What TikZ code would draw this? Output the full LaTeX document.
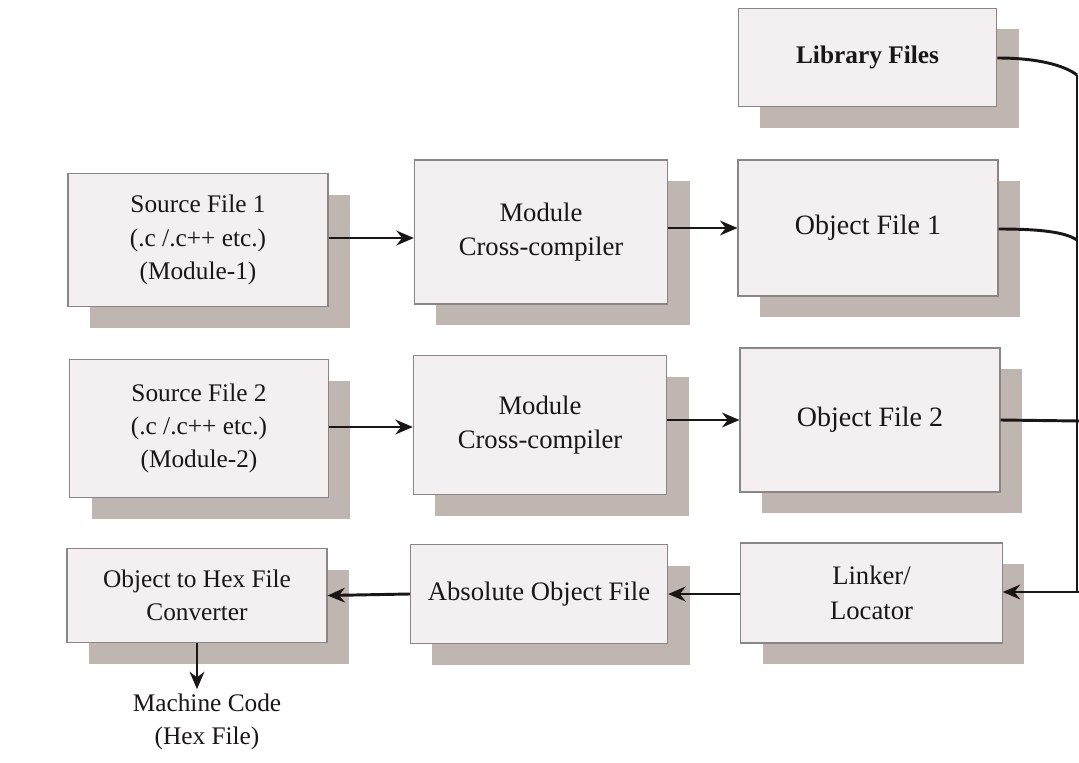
\documentclass[tikz,border=0pt]{standalone}
\usepackage{fontspec}
\setmainfont{Liberation Serif}
\usetikzlibrary{shadows,arrows.meta}
\definecolor{boxfill}{HTML}{F4EFF0}
\definecolor{boxline}{HTML}{8A8587}
\definecolor{shadowgray}{HTML}{BFB5B1}
\definecolor{inkc}{HTML}{1A1616}
\tikzset{
  blk/.style={draw=boxline, line width=0.8pt, fill=boxfill, align=center,
    inner sep=2pt, text=inkc, font=\fontsize{20}{26}\selectfont,
    drop shadow={shadow xshift=16.5pt, shadow yshift=-16pt, fill=shadowgray, opacity=1}},
  conn/.style={draw=inkc, line width=2.2pt, -{Stealth[length=13pt,width=11pt]}},
  wire/.style={draw=inkc, line width=2.2pt},
  plain/.style={align=center, text=inkc, font=\fontsize{20}{26}\selectfont}
}
\begin{document}
\begin{tikzpicture}[x=0.75pt,y=-0.75pt]
\useasboundingbox (0,0) rectangle (1079,763);
\fill[white] (0,0) rectangle (1079,763);
% right column
\node[blk, minimum width=194pt, minimum height=74pt, font=\fontsize{19}{24}\selectfont\bfseries] (lib) at (867.5,57.5) {Library Files};
\node[blk, minimum width=195pt, minimum height=102pt, font=\fontsize{21}{26}\selectfont] (obj1) at (868,228) {Object File 1};
\node[blk, minimum width=195pt, minimum height=108pt, font=\fontsize{21}{26}\selectfont] (obj2) at (870,420) {Object File 2};
\node[blk, minimum width=196pt, minimum height=75pt] (link) at (871.5,593) {Linker/\\Locator};
% middle column
\node[blk, minimum width=190pt, minimum height=108pt] (mod1) at (541,232) {Module\\Cross-compiler};
\node[blk, minimum width=190pt, minimum height=104pt] (mod2) at (540,425) {Module\\Cross-compiler};
\node[blk, minimum width=193pt, minimum height=74pt] (abs) at (539,594) {Absolute Object File};
% left column
\node[blk, minimum width=195pt, minimum height=100pt, font=\fontsize{19}{25}\selectfont] (src1) at (198,240) {Source File 1\\(.c /.c++ etc.)\\(Module-1)};
\node[blk, minimum width=194pt, minimum height=103pt, font=\fontsize{19}{25}\selectfont] (src2) at (199,428.5) {Source File 2\\(.c /.c++ etc.)\\(Module-2)};
\node[blk, minimum width=195pt, minimum height=71pt, font=\fontsize{19}{25}\selectfont] (hex) at (197,595.5) {Object to Hex File\\Converter};
\node[plain, font=\fontsize{19}{25}\selectfont] (mc) at (207,722) {Machine Code\\(Hex File)};
% connectors
\draw[conn] (src1.east |- 0,238) -- (mod1.west |- 0,238);
\draw[conn] (mod1.east |- 0,228) -- (obj1.west |- 0,228);
\draw[conn] (src2.east |- 0,427) -- (mod2.west |- 0,427);
\draw[conn] (mod2.east |- 0,420) -- (obj2.west |- 0,420);
\draw[conn] (link.west |- 0,594) -- (abs.east |- 0,594);
\draw[conn] (abs.west |- 0,594) -- (hex.west -| hex.east |- 0,594);
\draw[conn] (hex.south -| 197,0) -- (mc.north -| 197,0);
% bus on the right edge
\coordinate (bustop) at (1077,75);
\coordinate (busbot) at (1077,592);
\draw[wire] (lib.east |- 0,58) .. controls (1040,58) and (1065,66) .. (bustop);
\draw[wire] (obj1.east |- 0,229) .. controls (1040,229) and (1065,232) .. (1077,240);
\draw[wire] (obj2.east |- 0,420) -- (1079,421);
\draw[wire, line width=1pt] (bustop) -- (busbot);
\draw[conn] (1079,592) -- (link.east |- 0,592);
\end{tikzpicture}
\end{document}
